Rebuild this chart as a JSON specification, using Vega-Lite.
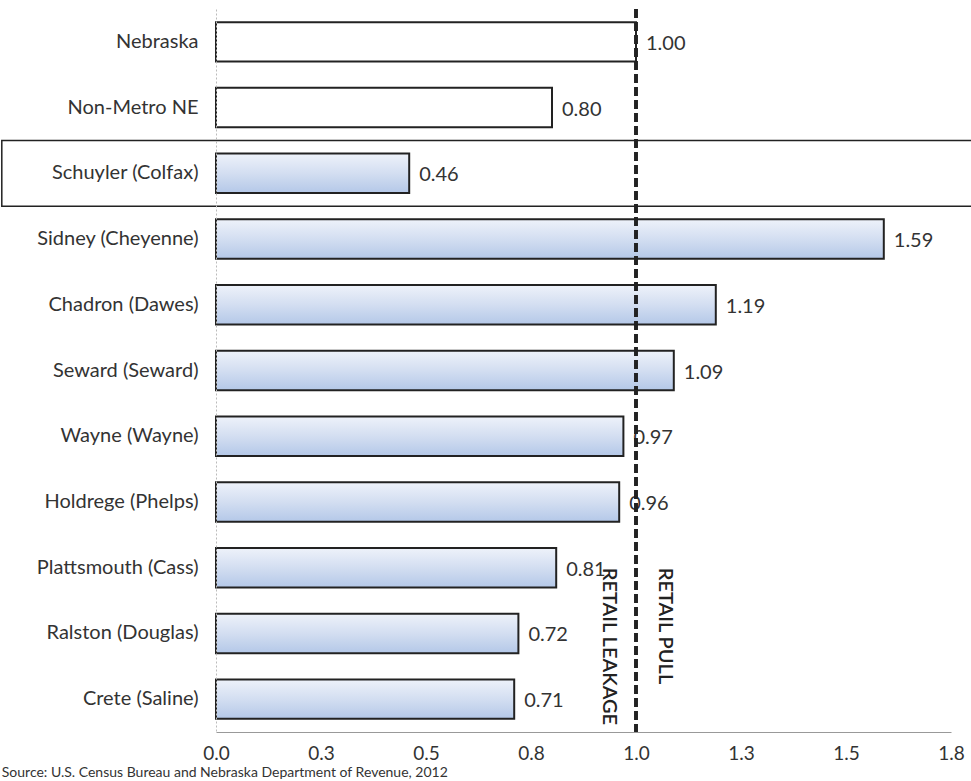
{
  "$schema": "https://vega.github.io/schema/vega-lite/v6.json",
  "width": 735,
  "height": 723,
  "autosize": {"type": "none"},
  "padding": {"left": 216, "top": 9, "right": 20, "bottom": 49},
  "background": "#ffffff",
  "config": {
    "view": {"stroke": null},
    "font": "Lato",
    "axis": {"labelFont": "Lato", "grid": false, "ticks": false}
  },
  "data": {
    "values": [
      {"place": "Nebraska", "value": 1.00, "label": "1.00", "kind": "ref"},
      {"place": "Non-Metro NE", "value": 0.80, "label": "0.80", "kind": "ref"},
      {"place": "Schuyler (Colfax)", "value": 0.46, "label": "0.46", "kind": "town"},
      {"place": "Sidney (Cheyenne)", "value": 1.59, "label": "1.59", "kind": "town"},
      {"place": "Chadron (Dawes)", "value": 1.19, "label": "1.19", "kind": "town"},
      {"place": "Seward (Seward)", "value": 1.09, "label": "1.09", "kind": "town"},
      {"place": "Wayne (Wayne)", "value": 0.97, "label": "0.97", "kind": "town"},
      {"place": "Holdrege (Phelps)", "value": 0.96, "label": "0.96", "kind": "town"},
      {"place": "Plattsmouth (Cass)", "value": 0.81, "label": "0.81", "kind": "town"},
      {"place": "Ralston (Douglas)", "value": 0.72, "label": "0.72", "kind": "town"},
      {"place": "Crete (Saline)", "value": 0.71, "label": "0.71", "kind": "town"}
    ]
  },
  "layer": [
    {
      "transform": [{"filter": "datum.place === 'Schuyler (Colfax)'"}],
      "mark": {"type": "rect", "fillOpacity": 0, "stroke": "#222222", "strokeWidth": 1.5, "clip": false},
      "encoding": {
        "y": {
          "field": "place", "type": "nominal",
          "sort": ["Nebraska", "Non-Metro NE", "Schuyler (Colfax)", "Sidney (Cheyenne)", "Chadron (Dawes)", "Seward (Seward)", "Wayne (Wayne)", "Holdrege (Phelps)", "Plattsmouth (Cass)", "Ralston (Douglas)", "Crete (Saline)"],
          "scale": {"paddingInner": 0, "paddingOuter": 0},
          "axis": {
            "title": null,
            "labelFontSize": 20,
            "labelColor": "#333333",
            "labelPadding": 18,
            "labelLimit": 300,
            "domainColor": "#bbbbbb",
            "domainDash": [2, 2],
            "domainWidth": 1
          }
        },
        "x": {
          "datum": -0.51, "type": "quantitative",
          "scale": {"domain": [0, 1.75], "nice": false, "zero": false},
          "axis": {
            "title": null,
            "values": [0, 0.25, 0.5, 0.75, 1.0, 1.25, 1.5, 1.75],
            "format": ".1f",
            "labelFontSize": 19,
            "labelColor": "#333333",
            "labelPadding": 12,
            "labelFlush": false,
            "domainColor": "#999999",
            "domainWidth": 1
          }
        },
        "x2": {"datum": 1.9}
      }
    },
    {
      "transform": [{"filter": "datum.kind === 'ref'"}],
      "mark": {"type": "bar", "height": {"band": 0.6}, "fill": "#ffffff", "stroke": "#222222", "strokeWidth": 2},
      "encoding": {
        "y": {"field": "place", "type": "nominal", "sort": ["Nebraska", "Non-Metro NE", "Schuyler (Colfax)", "Sidney (Cheyenne)", "Chadron (Dawes)", "Seward (Seward)", "Wayne (Wayne)", "Holdrege (Phelps)", "Plattsmouth (Cass)", "Ralston (Douglas)", "Crete (Saline)"]},
        "x": {"field": "value", "type": "quantitative"}
      }
    },
    {
      "transform": [{"filter": "datum.kind === 'town'"}],
      "mark": {
        "type": "bar",
        "height": {"band": 0.6},
        "stroke": "#222222",
        "strokeWidth": 2,
        "fill": {
          "gradient": "linear",
          "x1": 0, "y1": 0, "x2": 0, "y2": 1,
          "stops": [
            {"offset": 0, "color": "#eef2fa"},
            {"offset": 0.5, "color": "#d3def1"},
            {"offset": 1, "color": "#b4c8e8"}
          ]
        }
      },
      "encoding": {
        "y": {"field": "place", "type": "nominal", "sort": ["Nebraska", "Non-Metro NE", "Schuyler (Colfax)", "Sidney (Cheyenne)", "Chadron (Dawes)", "Seward (Seward)", "Wayne (Wayne)", "Holdrege (Phelps)", "Plattsmouth (Cass)", "Ralston (Douglas)", "Crete (Saline)"]},
        "x": {"field": "value", "type": "quantitative"}
      }
    },
    {
      "mark": {"type": "text", "align": "left", "baseline": "middle", "dx": 10, "dy": 2, "fontSize": 20, "color": "#333333"},
      "encoding": {
        "y": {"field": "place", "type": "nominal", "sort": ["Nebraska", "Non-Metro NE", "Schuyler (Colfax)", "Sidney (Cheyenne)", "Chadron (Dawes)", "Seward (Seward)", "Wayne (Wayne)", "Holdrege (Phelps)", "Plattsmouth (Cass)", "Ralston (Douglas)", "Crete (Saline)"]},
        "x": {"field": "value", "type": "quantitative"},
        "text": {"field": "label"}
      }
    },
    {
      "mark": {"type": "rule", "strokeDash": [9, 4], "strokeWidth": 2.5, "color": "#222222"},
      "encoding": {
        "x": {"datum": 1.0, "type": "quantitative"}
      }
    },
    {
      "data": {"values": [
        {"place": "Plattsmouth (Cass)", "xpos": 0.925, "note": "RETAIL LEAKAGE"},
        {"place": "Plattsmouth (Cass)", "xpos": 1.06, "note": "RETAIL PULL"}
      ]},
      "mark": {"type": "text", "angle": 90, "align": "left", "baseline": "middle", "dy": -4, "fontSize": 20, "fontWeight": 600, "color": "#222222"},
      "encoding": {
        "y": {"field": "place", "type": "nominal", "sort": ["Nebraska", "Non-Metro NE", "Schuyler (Colfax)", "Sidney (Cheyenne)", "Chadron (Dawes)", "Seward (Seward)", "Wayne (Wayne)", "Holdrege (Phelps)", "Plattsmouth (Cass)", "Ralston (Douglas)", "Crete (Saline)"]},
        "x": {"field": "xpos", "type": "quantitative"},
        "text": {"field": "note"}
      }
    },
    {
      "data": {"values": [{"src": "Source: U.S. Census Bureau and Nebraska Department of Revenue, 2012", "xpos": -0.51}]},
      "mark": {"type": "text", "align": "left", "baseline": "top", "fontSize": 14, "color": "#333333", "clip": false},
      "encoding": {
        "x": {"field": "xpos", "type": "quantitative"},
        "y": {"value": 757},
        "text": {"field": "src"}
      }
    }
  ]
}
